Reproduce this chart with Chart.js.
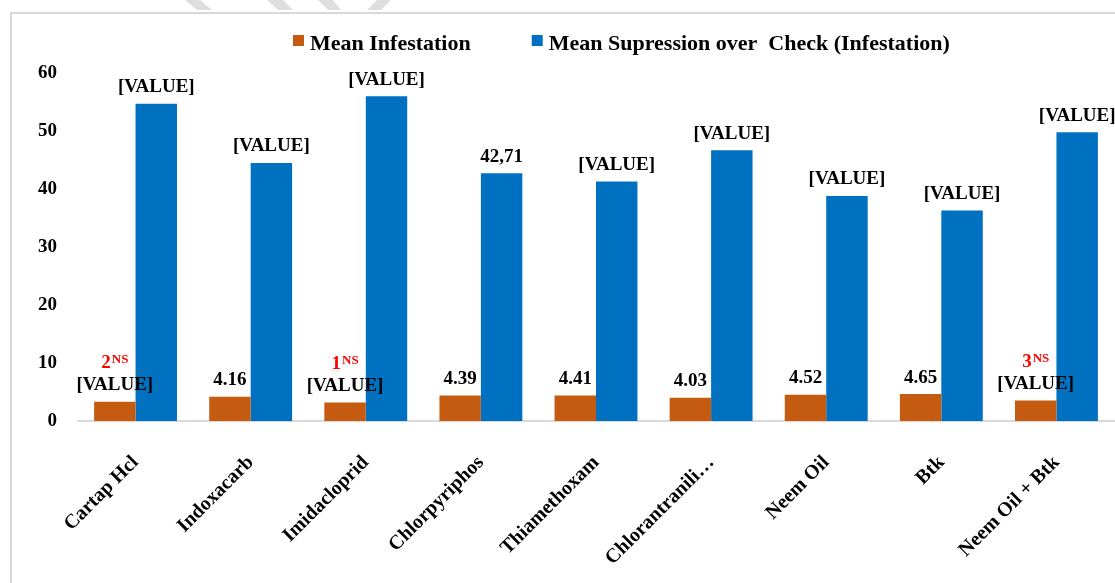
<!DOCTYPE html>
<html><head><meta charset="utf-8">
<script src="https://cdn.jsdelivr.net/npm/chart.js@4.4.1/dist/chart.umd.min.js"></script>
<style>html,body{margin:0;padding:0;background:#fff;}#wrap{width:1115px;height:583px;position:relative;}</style>
</head><body><div id="wrap"><canvas id="c" width="1115" height="583"></canvas></div>
<script>
const categories = ["Cartap Hcl","Indoxacarb","Imidacloprid","Chlorpyriphos","Thiamethoxam","Chlorantranili\u2026","Neem Oil","Btk","Neem Oil + Btk"];
const seriesNames = ["Mean Infestation","Mean Supression over  Check (Infestation)"];
const meanInfestation = [3.3,4.16,3.2,4.39,4.41,4.03,4.52,4.65,3.55];
const meanSuppression = [54.7,44.5,56.0,42.71,41.3,46.7,38.8,36.3,49.8];
const infestationLabels = ["[VALUE]","4.16","[VALUE]","4.39","4.41","4.03","4.52","4.65","[VALUE]"];
const suppressionLabels = ["[VALUE]","[VALUE]","[VALUE]","42,71","[VALUE]","[VALUE]","[VALUE]","[VALUE]","[VALUE]"];
const noteNumbers = ["2","","1","","","","","","3"];
const noteSuffix = "NS";
const yMin = 0, yMax = 60, yStep = 10;
const seriesColors = ["#C55A11","#0070C0"];

const FAMILY = '"Liberation Serif","Times New Roman",serif';

const decorPlugin = {
  id:'decor',
  beforeDraw(chart){
    const ctx = chart.ctx;
    ctx.save();
    ctx.fillStyle = '#fff';
    ctx.fillRect(0,0,chart.width,chart.height);
    // watermark fragments
    ctx.fillStyle = '#dedede';
    const stripes = [[185,200,197,212],[267,283,278,293],[318,333,328,341],[377,391,367,381]];
    stripes.forEach(s=>{
      ctx.beginPath();
      ctx.moveTo(s[0],0);ctx.lineTo(s[1],0);ctx.lineTo(s[3],10);ctx.lineTo(s[2],10);ctx.closePath();ctx.fill();
    });
    // frame
    ctx.strokeStyle = '#d9d9d9';
    ctx.lineWidth = 2;
    ctx.beginPath();
    ctx.moveTo(11, chart.height+5);
    ctx.lineTo(11, 13);
    ctx.lineTo(chart.width+5, 13);
    ctx.stroke();
    ctx.restore();
  }
};

const labelPlugin = {
  id:'valueLabels',
  afterDatasetsDraw(chart){
    const ctx = chart.ctx;
    const sets = [infestationLabels, suppressionLabels];
    ctx.save();
    chart.data.datasets.forEach((ds,di)=>{
      const meta = chart.getDatasetMeta(di);
      meta.data.forEach((bar,i)=>{
        const by = bar.y - 11.5;
        ctx.font = 'bold 19px '+FAMILY;
        ctx.fillStyle = '#000';
        ctx.textAlign = 'center';
        ctx.textBaseline = 'alphabetic';
        ctx.fillText(sets[di][i], bar.x, by);
        if (di===0 && noteNumbers[i]) {
          ctx.font = 'bold 19px '+FAMILY;
          const w1 = ctx.measureText(noteNumbers[i]).width;
          ctx.font = 'bold 13px '+FAMILY;
          const w2 = ctx.measureText(noteSuffix).width;
          const x0 = bar.x - (w1+w2+1)/2;
          const ny = by - 22;
          ctx.fillStyle = '#FF0000';
          ctx.textAlign = 'left';
          ctx.font = 'bold 19px '+FAMILY;
          ctx.fillText(noteNumbers[i], x0, ny);
          ctx.font = 'bold 13px '+FAMILY;
          ctx.fillText(noteSuffix, x0+w1+1, ny-5);
        }
      });
    });
    ctx.restore();
  }
};

const legendPlugin = {
  id:'customLegend',
  afterDraw(chart){
    const ctx = chart.ctx;
    ctx.save();
    ctx.font = 'bold 22px '+FAMILY;
    ctx.textBaseline = 'alphabetic';
    ctx.textAlign = 'left';
    let x = 293;
    chart.data.datasets.forEach((ds)=>{
      ctx.fillStyle = ds.backgroundColor;
      ctx.fillRect(x, 35, 11, 11);
      ctx.fillStyle = '#000';
      ctx.fillText(ds.label, x+17, 50);
      x += 17 + ctx.measureText(ds.label).width + 61;
    });
    ctx.restore();
  }
};

new Chart(document.getElementById('c'), {
  type:'bar',
  data:{
    labels: categories,
    datasets:[
      {label: seriesNames[0], data: meanInfestation, backgroundColor: seriesColors[0], borderWidth:0},
      {label: seriesNames[1], data: meanSuppression, backgroundColor: seriesColors[1], borderWidth:0}
    ]
  },
  options:{
    responsive:false,
    animation:false,
    devicePixelRatio:1,
    layout:{padding:{top:73,right:1,left:0,bottom:0}},
    datasets:{bar:{categoryPercentage:0.72, barPercentage:1.0}},
    plugins:{legend:{display:false}, tooltip:{enabled:false}},
    scales:{
      x:{
        grid:{display:false, drawTicks:false},
        border:{display:true, color:'#d9d9d9', width:2},
        ticks:{autoSkip:false, maxRotation:45, minRotation:45, padding:30, labelOffset:0,
               color:'#000', font:{family:FAMILY, size:20, weight:'bold'}},
        afterFit(s){ s.height = 162; }
      },
      y:{
        min:yMin, max:yMax,
        grid:{display:false, drawTicks:false},
        border:{display:false},
        ticks:{stepSize:yStep, padding:21, color:'#000', font:{family:FAMILY, size:19, weight:'bold'}},
        afterFit(s){ s.width = 78; }
      }
    }
  },
  plugins:[decorPlugin, labelPlugin, legendPlugin]
});
</script>
</body></html>
